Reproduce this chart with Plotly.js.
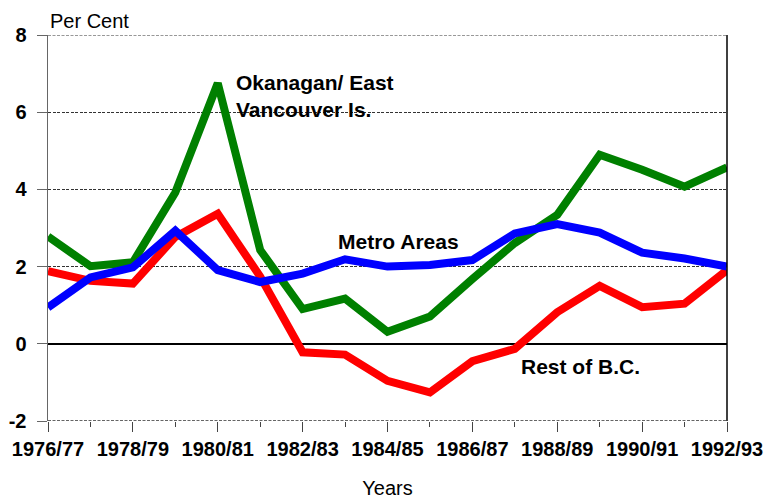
<!DOCTYPE html>
<html>
<head>
<meta charset="utf-8">
<script src="https://cdn.plot.ly/plotly-3.0.1.min.js"></script>
<style>html,body{margin:0;padding:0;background:#fff;}#chart{width:766px;height:499px;}</style>
</head>
<body>
<div id="chart"></div>
<script>
const years = ["1976/77","1977/78","1978/79","1979/80","1980/81","1981/82","1982/83","1983/84","1984/85","1985/86","1986/87","1987/88","1988/89","1989/90","1990/91","1991/92","1992/93"];
const okanagan = [2.78, 2.01, 2.11, 3.92, 6.75, 2.43, 0.90, 1.17, 0.31, 0.71, 1.68, 2.61, 3.34, 4.90, 4.51, 4.07, 4.57];
const restOfBC = [1.88, 1.63, 1.56, 2.77, 3.37, 1.74, -0.22, -0.28, -0.96, -1.26, -0.45, -0.13, 0.82, 1.50, 0.95, 1.04, 1.91];
const metro = [0.94, 1.72, 1.98, 2.93, 1.91, 1.60, 1.82, 2.19, 2.00, 2.04, 2.17, 2.86, 3.10, 2.88, 2.36, 2.21, 2.00];
const yTickVals = [-2, 0, 2, 4, 6, 8];
const yTickText = ["-2", "0", "2", "4", "6", "8"];
const labelYears = years.filter((y, i) => i % 2 === 0);
const idx = years.map((y, i) => i);
const labelIdx = idx.filter(i => i % 2 === 0);

const FONT = "Arial, 'Liberation Sans', sans-serif";

const mk = (y, color, name) => ({
  x: idx, y: y, type: 'scatter', mode: 'lines', name: name,
  line: {color: color, width: 8}, hoverinfo: 'skip'
});

const data = [
  mk(okanagan, '#008000', 'Okanagan/ East Vancouver Is.'),
  mk(restOfBC, '#ff0000', 'Rest of B.C.'),
  mk(metro, '#0000ff', 'Metro Areas')
];

const layout = {
  width: 766, height: 499,
  margin: {l: 48, r: 39, t: 35, b: 78},
  paper_bgcolor: '#fff', plot_bgcolor: '#fff',
  showlegend: false,
  font: {family: FONT, color: '#000'},
  xaxis: {
    range: [0, 16], tickmode: 'array', tickvals: labelIdx, ticktext: labelYears,
    showgrid: false, zeroline: false, showline: false,
    ticks: 'outside', ticklen: 10, tickcolor: '#444', tickwidth: 1,
    tickfont: {size: 20, family: FONT, weight: 'bold'},
    minor: {dtick: 1, tick0: 0, ticks: 'outside', ticklen: 5, tickcolor: '#444', showgrid: false},
    title: {text: 'Years', font: {size: 20, family: FONT}, standoff: 22}
  },
  yaxis: {
    range: [-2, 8], tickmode: 'array', tickvals: yTickVals, ticktext: yTickText,
    showgrid: true, gridcolor: '#333', griddash: '3px,1.5px', gridwidth: 1,
    zeroline: true, zerolinecolor: '#000', zerolinewidth: 1.5,
    showline: true, linecolor: '#666', linewidth: 1.5,
    ticks: 'outside', ticklen: 10, tickcolor: '#666',
    tickfont: {size: 20, family: FONT, weight: 'bold'},
    ticklabelstandoff: 6
  },
  shapes: [
    {type: 'line', xref: 'paper', yref: 'paper', x0: 1, x1: 1, y0: 0, y1: 1, line: {color: '#000', width: 1.5}},
    {type: 'line', xref: 'paper', yref: 'y', x0: 0, x1: 1, y0: 8, y1: 8, line: {color: '#333', width: 1, dash: '3px,1.5px'}},
    {type: 'line', xref: 'paper', yref: 'y', x0: 0, x1: 1, y0: -2, y1: -2, line: {color: '#333', width: 1.5, dash: '3px,1.5px'}}
  ],
  annotations: [
    {xref: 'paper', yref: 'paper', x: 0, y: 1, xanchor: 'left', yanchor: 'middle', yshift: 14,
     text: 'Per Cent', showarrow: false, font: {size: 20, family: FONT}},
    {xref: 'x', yref: 'y', x: 4.38, y: 6.41, xanchor: 'left', yanchor: 'middle', align: 'left',
     text: 'Okanagan/ East<br>Vancouver Is.', showarrow: false, font: {size: 21, family: FONT, weight: 'bold'}},
    {xref: 'x', yref: 'y', x: 6.78, y: 2.64, xanchor: 'left', yanchor: 'middle',
     text: 'Metro Areas', showarrow: false, font: {size: 21, family: FONT, weight: 'bold'}},
    {xref: 'x', yref: 'y', x: 11.1, y: -0.59, xanchor: 'left', yanchor: 'middle',
     text: 'Rest of B.C.', showarrow: false, font: {size: 21, family: FONT, weight: 'bold'}}
  ]
};

Plotly.newPlot('chart', data, layout, {displayModeBar: false, staticPlot: true});
</script>
</body>
</html>
